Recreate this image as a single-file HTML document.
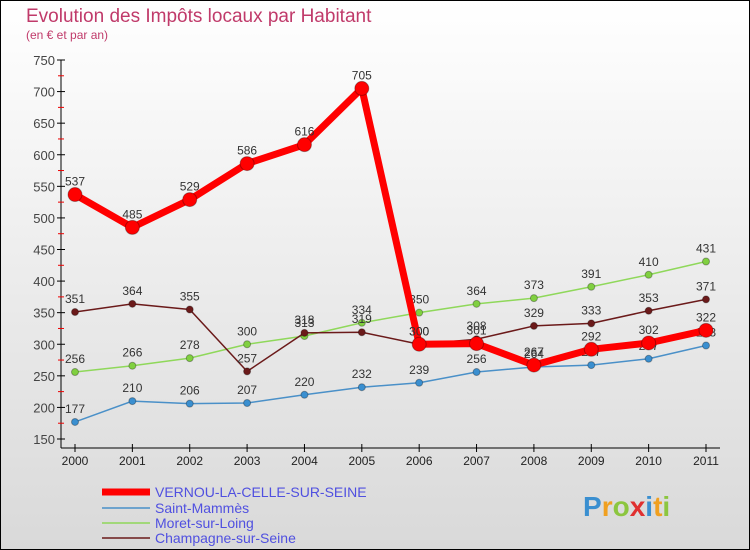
<!DOCTYPE html>
<html><head><meta charset="utf-8"><style>
body{margin:0}
svg{display:block;font-family:"Liberation Sans",sans-serif}
</style></head><body>
<svg width="750" height="550" id="c">
<defs><linearGradient id="bg" x1="0" y1="0" x2="0" y2="1"><stop offset="0" stop-color="#ffffff"/><stop offset="1" stop-color="#d9d9d9"/></linearGradient></defs>
<rect x="0.5" y="0.5" width="749" height="549" fill="url(#bg)" stroke="#000"/>
<text x="26" y="22" font-size="19" fill="#c03a6a">Evolution des Impôts locaux par Habitant</text>
<text x="26" y="39" font-size="12" fill="#c03a6a">(en € et par an)</text>
<g id="axes"></g><g id="series"></g>
<g>
<line x1="102" y1="492" x2="150" y2="492" stroke="#f00" stroke-width="7"/>
<text x="155" y="497" font-size="14" fill="#5050e0">VERNOU-LA-CELLE-SUR-SEINE</text>
<line x1="102" y1="508" x2="150" y2="508" stroke="#4a90c8" stroke-width="1.5"/>
<text x="155" y="513" font-size="14" fill="#5050e0">Saint-Mammès</text>
<line x1="102" y1="523" x2="150" y2="523" stroke="#8fd85a" stroke-width="1.5"/>
<text x="155" y="528" font-size="14" fill="#5050e0">Moret-sur-Loing</text>
<line x1="102" y1="538" x2="150" y2="538" stroke="#6b1a1a" stroke-width="1.5"/>
<text x="155" y="543" font-size="14" fill="#5050e0">Champagne-sur-Seine</text>
</g>
<text x="583" y="516" font-size="28" font-weight="bold"><tspan fill="#3a8fd0">P</tspan><tspan fill="#f0a020">r</tspan><tspan fill="#8cc63f">o</tspan><tspan fill="#e03030">x</tspan><tspan fill="#3a8fd0">i</tspan><tspan fill="#f0a020">t</tspan><tspan fill="#8cc63f">i</tspan></text>
</svg>
<script>
const years=["2000","2001","2002","2003","2004","2005","2006","2007","2008","2009","2010","2011"];
const yTicks=[150,200,250,300,350,400,450,500,550,600,650,700,750];
const vernou=[537,485,529,586,616,705,300,301,267,292,302,322];
const saintMammes=[177,210,206,207,220,232,239,256,264,267,277,298];
const moret=[256,266,278,300,313,334,350,364,373,391,410,431];
const champagne=[351,364,355,257,318,319,300,308,329,333,353,371];
const NS="http://www.w3.org/2000/svg";
const xS=i=>75+i*(706-75)/11;
const yS=v=>439-(v-150)*(439-60)/600;
function mk(tag,attrs,parent){const e=document.createElementNS(NS,tag);for(const k in attrs)e.setAttribute(k,attrs[k]);parent.appendChild(e);return e;}
const ax=document.getElementById('axes');
let a=mk('line',{x1:61,y1:60,x2:61,y2:448,stroke:'#000'},ax);


a=mk('line',{x1:61,y1:448,x2:720,y2:448,stroke:'#000'},ax);


yTicks.forEach(v=>{
 mk('line',{x1:57,y1:yS(v),x2:65,y2:yS(v),stroke:'#000'},ax);
 if(v<750) mk('line',{x1:58,y1:yS(v+25),x2:64,y2:yS(v+25),stroke:'#e00'},ax);
 const t=mk('text',{x:55,y:yS(v)+5,'font-size':13,fill:'#444','text-anchor':'end'},ax);
 t.textContent=v;
 
 
});
years.forEach((y,i)=>{
 mk('line',{x1:xS(i),y1:444,x2:xS(i),y2:452,stroke:'#000'},ax);
 const t=mk('text',{x:xS(i),y:465,'font-size':12,fill:'#222','text-anchor':'middle'},ax);
 t.textContent=y;
 
 
});
const sg=document.getElementById('series');
function draw(data,color,w,r,name,dot){
 const g=mk('g',{},sg);
 
 
 mk('polyline',{points:data.map((v,i)=>xS(i)+','+yS(v)).join(' '),fill:'none',stroke:color,'stroke-width':w,'stroke-linejoin':'round'},g);
 data.forEach((v,i)=>{
  const c=mk('circle',{cx:xS(i),cy:yS(v),r:r,fill:dot,stroke:'rgba(0,0,0,0.3)','stroke-width':1},g);
  
  
  const t=mk('text',{x:xS(i),y:yS(v)-9,'font-size':12,fill:'#333','text-anchor':'middle'},g);
  t.textContent=v;
  
  
 });
}
draw(saintMammes,'#4a90c8',1.5,3.5,'series-saint-mammes','#3a8fd0');
draw(moret,'#8fd85a',1.5,3.5,'series-moret','#80d040');
draw(champagne,'#6b1a1a',1.5,3.5,'series-champagne','#6b1a1a');
draw(vernou,'#f00',7,7,'series-vernou','#f00');
</script>
</body></html>
